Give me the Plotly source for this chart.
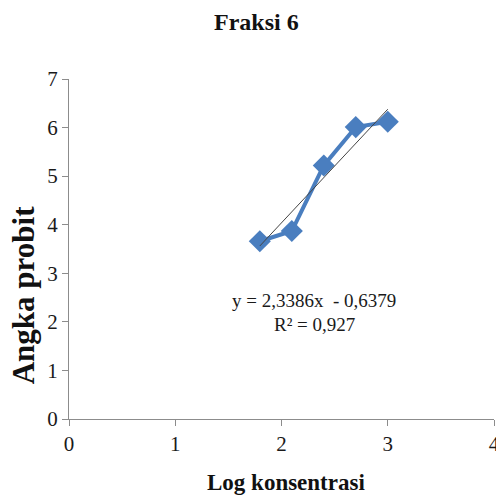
import plotly.graph_objects as go

# Probit analysis data for fraction 6
log_konsentrasi = [1.796, 2.097, 2.398, 2.699, 3.0]
angka_probit = [3.66, 3.87, 5.22, 6.01, 6.12]

# Linear trendline coefficients (y = slope*x + intercept)
slope = 2.3386
intercept = -0.6379
r_squared = 0.927

x_ticks = [0, 1, 2, 3, 4]
y_ticks = [0, 1, 2, 3, 4, 5, 6, 7]

serif = "Liberation Serif, Times New Roman, serif"
blue = "#4a7ebf"

trend_x = [min(log_konsentrasi), max(log_konsentrasi)]
trend_y = [slope * v + intercept for v in trend_x]

fig = go.Figure()
fig.add_trace(go.Scatter(
    x=log_konsentrasi, y=angka_probit, mode="lines+markers",
    line=dict(color=blue, width=4),
    marker=dict(symbol="diamond", size=17, color=blue),
    showlegend=False,
))
fig.add_trace(go.Scatter(
    x=trend_x, y=trend_y, mode="lines",
    line=dict(color="#444444", width=1),
    showlegend=False,
))

axis_common = dict(
    showgrid=False, zeroline=False, showline=True,
    linecolor="#8c8c8c", linewidth=1,
    ticks="outside", ticklen=6, tickcolor="#8c8c8c",
    ticklabeloverflow="allow", automargin=False,
    tickfont=dict(family=serif, size=21, color="#1a1a1a"),
)

fig.update_layout(
    width=496, height=497,
    margin=dict(l=69, r=2, t=79, b=78),
    paper_bgcolor="white", plot_bgcolor="white",
    xaxis=dict(range=[0, 4], tickvals=x_ticks, **axis_common),
    yaxis=dict(range=[0, 7], tickvals=y_ticks, **axis_common),
)

eq_text = f"y = {slope:.4f}x  - {abs(intercept):.4f}".replace(".", ",")
r2_text = f"R² = {r_squared:.3f}".replace(".", ",")

annotations = [
    dict(text="<b>Fraksi 6</b>", xref="paper", yref="paper", x=0.44, y=1.168,
         showarrow=False, xanchor="center", yanchor="middle",
         font=dict(family=serif, size=24, color="#111111")),
    dict(text="<b>Angka probit</b>", xref="paper", yref="paper", x=-0.105, y=0.365,
         textangle=-90, showarrow=False, xanchor="center", yanchor="middle",
         font=dict(family=serif, size=31, color="#111111")),
    dict(text="<b>Log konsentrasi</b>", xref="paper", yref="paper", x=0.511, y=-0.188,
         showarrow=False, xanchor="center", yanchor="middle",
         font=dict(family=serif, size=23, color="#111111")),
    dict(text=eq_text, xref="x", yref="y", x=2.31, y=2.45,
         showarrow=False, xanchor="center", yanchor="middle",
         font=dict(family=serif, size=19, color="#1a1a1a")),
    dict(text=r2_text, xref="x", yref="y", x=2.31, y=1.94,
         showarrow=False, xanchor="center", yanchor="middle",
         font=dict(family=serif, size=19, color="#1a1a1a")),
]
fig.update_layout(annotations=annotations)

fig.write_html("out.html")
